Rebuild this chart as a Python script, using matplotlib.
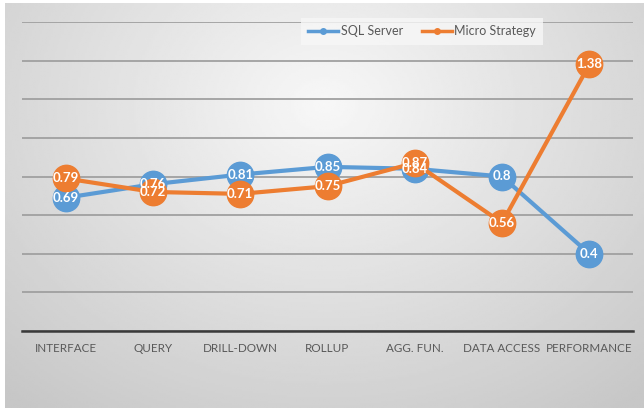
import matplotlib
matplotlib.use("Agg")
import matplotlib.pyplot as plt
import numpy as np

plt.rcParams["font.family"] = ["Lato", "DejaVu Sans"]

categories = ["INTERFACE", "QUERY", "DRILL-DOWN", "ROLLUP", "AGG. FUN.",
              "DATA ACCESS", "PERFORMANCE"]
sql_server = [0.69, 0.76, 0.81, 0.85, 0.84, 0.8, 0.4]
micro_strategy = [0.79, 0.72, 0.71, 0.75, 0.87, 0.56, 1.38]

BLUE = "#5b9bd5"
ORANGE = "#ed7d31"

W, H = 644, 408
fig = plt.figure(figsize=(W / 100, H / 100), dpi=100, facecolor="white")

# gradient background (Excel chart-area style), light near the top centre
bg = fig.add_axes([5 / W, 0, 1 - 5 / W, 1 - 3 / H])
yy, xx = np.mgrid[0:1:200j, 0:1:300j]
d = np.sqrt(((xx - 0.5) / 0.75) ** 2 + ((yy - 0.25) / 0.95) ** 2)
shade = 0.97 - 0.19 * np.clip(d, 0, 1)
bg.imshow(shade, cmap="gray", vmin=0, vmax=1, aspect="auto",
          extent=[0, 1, 0, 1], origin="upper")
bg.axis("off")

ax = fig.add_axes([22 / W, 1 - 331 / H, 611 / W, 309 / H])
ax.patch.set_alpha(0)
x = np.arange(len(categories))
ax.set_xlim(-0.5, len(categories) - 0.5)
ax.set_ylim(0, 1.6)
ax.set_yticks(np.arange(0, 1.61, 0.2))
ax.yaxis.grid(True, color="#a0a0a0", linewidth=1.3)
ax.set_axisbelow(True)
ax.tick_params(axis="y", left=False, labelleft=False)
ax.tick_params(axis="x", length=0, pad=9, labelsize=8.4, colors="#595959")
ax.set_xticks(x)
ax.set_xticklabels(categories)
for s in ["top", "right", "left"]:
    ax.spines[s].set_visible(False)
ax.spines["bottom"].set_color("#3a3a3a")
ax.spines["bottom"].set_linewidth(1.8)

for vals, color, name in [(sql_server, BLUE, "SQL Server"),
                          (micro_strategy, ORANGE, "Micro Strategy")]:
    ax.plot(x, vals, color=color, linewidth=3, marker="o", markersize=19,
            label=name, zorder=3)
    for xi, v in zip(x, vals):
        ax.text(xi, v, f"{v:g}", ha="center", va="center", color="white",
                fontsize=9.5, fontweight="bold", zorder=4)

# legend with small markers
h1, = ax.plot([], [], color=BLUE, linewidth=2.5, marker="o", markersize=4)
h2, = ax.plot([], [], color=ORANGE, linewidth=2.5, marker="o", markersize=4)
leg = ax.legend([h1, h2], ["SQL Server", "Micro Strategy"], ncol=2,
                loc="center", bbox_to_anchor=((422 - 22) / 611, (331 - 31) / 309),
                frameon=True, fontsize=9, handlelength=2.4, columnspacing=1.5,
                handletextpad=0.2, borderpad=0.6, fancybox=False)
leg.get_frame().set_facecolor("#f7f7f7")
leg.get_frame().set_edgecolor("none")
leg.get_frame().set_alpha(0.8)
for t in leg.get_texts():
    t.set_color("#595959")

fig.savefig("out.png", dpi=100, facecolor="white")
